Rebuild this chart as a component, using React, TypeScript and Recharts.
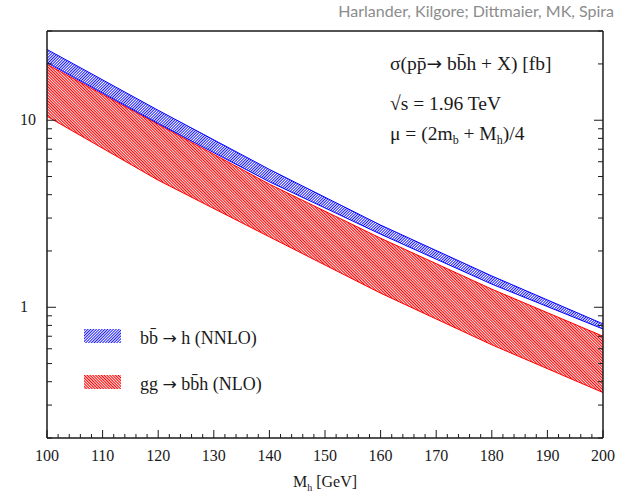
import { Area, ComposedChart, Legend, XAxis, YAxis } from 'recharts'

// Higgs mass points (GeV) and cross-section bands in fb
const massGeV = [100, 120, 140, 160, 180, 200]
const bbToHLow = [20.3, 9.6, 4.69, 2.46, 1.33, 0.765]
const bbToHHigh = [23.9, 11.3, 5.46, 2.75, 1.47, 0.815]
const ggToBbhLow = [10.5, 4.78, 2.38, 1.19, 0.63, 0.35]
const ggToBbhHigh = [19.9, 9.5, 4.55, 2.34, 1.25, 0.7]

const xMajorTicks = [100, 110, 120, 130, 140, 150, 160, 170, 180, 190, 200]
const xAllTicks = [
  100, 102, 104, 106, 108, 110, 112, 114, 116, 118, 120, 122, 124, 126, 128, 130, 132, 134, 136,
  138, 140, 142, 144, 146, 148, 150, 152, 154, 156, 158, 160, 162, 164, 166, 168, 170, 172, 174,
  176, 178, 180, 182, 184, 186, 188, 190, 192, 194, 196, 198, 200,
]
const yMajorTicks = [1, 10]
const yAllTicks = [0.2, 0.3, 0.4, 0.5, 0.6, 0.7, 0.8, 0.9, 1, 2, 3, 4, 5, 6, 7, 8, 9, 10, 20, 30]

const legendItems = [
  { pre: 'bb\u0304 ', post: ' h (NNLO)', fill: 'url(#legendBlue)' },
  { pre: 'gg ', post: ' bb\u0304h (NLO)', fill: 'url(#legendRed)' },
]

const W = 618
const H = 495
const INK = '#1a1a1a'
const SERIF = '"Liberation Serif", "Times New Roman", serif'
const ARROW_FONT = '"DejaVu Sans", sans-serif'
const BLUE = '#0000ff'
const RED = '#ff0000'

interface TickProps {
  x: number
  y: number
  payload: { value: number }
}

function BottomTick({ x, y, payload }: TickProps) {
  const major = xMajorTicks.includes(payload.value)
  return (
    <g>
      <line x1={x} y1={y} x2={x} y2={y - (major ? 8 : 4)} stroke={INK} strokeWidth={1} />
      {major && (
        <text x={x} y={y + 23} textAnchor="middle" fontFamily={SERIF} fontSize={16} fill={INK}>
          {payload.value}
        </text>
      )}
    </g>
  )
}

function TopTick({ x, y, payload }: TickProps) {
  const major = xMajorTicks.includes(payload.value)
  return <line x1={x} y1={y} x2={x} y2={y + (major ? 8 : 4)} stroke={INK} strokeWidth={1} />
}

function LeftTick({ x, y, payload }: TickProps) {
  const major = yMajorTicks.includes(payload.value)
  return (
    <g>
      <line x1={x} y1={y} x2={x + (major ? 9 : 5)} y2={y} stroke={INK} strokeWidth={1} />
      {major && (
        <text x={20} y={y + 5} textAnchor="start" fontFamily={SERIF} fontSize={16} fill={INK}>
          {payload.value}
        </text>
      )}
    </g>
  )
}

function RightTick({ x, y, payload }: TickProps) {
  const major = yMajorTicks.includes(payload.value)
  return <line x1={x} y1={y} x2={x - (major ? 9 : 5)} y2={y} stroke={INK} strokeWidth={1} />
}

function hatch(id: string, color: string, angle: number, line: number) {
  return (
    <pattern id={id} width={2} height={2} patternUnits="userSpaceOnUse" patternTransform={`rotate(${angle})`}>
      <rect width={line} height={2} fill={color} />
    </pattern>
  )
}

function Arrow() {
  return <tspan fontFamily={ARROW_FONT} fontSize="0.95em">→</tspan>
}

function BandLegend() {
  return (
    <svg width={260} height={80}>
      <defs>
        {hatch('legendBlue', BLUE, 45, 0.9)}
        {hatch('legendRed', RED, -45, 1.1)}
      </defs>
      {legendItems.map((item, i) => (
        <g key={item.pre + item.post} transform={`translate(0, ${i * 46})`}>
          <rect x={0} y={5} width={37} height={14} fill={item.fill} />
          <text x={56} y={20} fontFamily={SERIF} fontSize={18} fill={INK}>
            {item.pre}
            <Arrow />
            {item.post}
          </text>
        </g>
      ))}
    </svg>
  )
}

export default function App() {
  const rows = massGeV.map((m, i) => ({
    m,
    bbh: [bbToHLow[i], bbToHHigh[i]],
    gg: [ggToBbhLow[i], ggToBbhHigh[i]],
  }))
  const frame = { stroke: INK, strokeWidth: 1.5 }

  return (
    <div style={{ position: 'absolute', left: 0, top: 0, width: W, height: H, background: '#fff' }}>
      <ComposedChart width={W} height={H} data={rows} margin={{ top: 30, right: 14, bottom: 27, left: 17 }}>
        <defs>
          {hatch('hatchBlue', BLUE, 45, 0.9)}
          {hatch('hatchRed', RED, -45, 1.1)}
        </defs>
        <XAxis
          xAxisId="x"
          dataKey="m"
          type="number"
          domain={[100, 200]}
          allowDataOverflow
          ticks={xAllTicks}
          interval={0}
          height={30}
          tickSize={0}
          tickMargin={0}
          tickLine={false}
          axisLine={frame}
          tick={(p: TickProps) => <BottomTick {...p} />}
        />
        <XAxis
          xAxisId="top"
          orientation="top"
          type="number"
          domain={[100, 200]}
          allowDataOverflow
          ticks={xAllTicks}
          interval={0}
          height={1}
          tickSize={0}
          tickMargin={0}
          tickLine={false}
          axisLine={frame}
          tick={(p: TickProps) => <TopTick {...p} />}
        />
        <YAxis
          yAxisId="y"
          scale="log"
          type="number"
          domain={[0.2, 30]}
          allowDataOverflow
          ticks={yAllTicks}
          interval={0}
          width={30}
          tickSize={0}
          tickMargin={0}
          tickLine={false}
          axisLine={frame}
          tick={(p: TickProps) => <LeftTick {...p} />}
        />
        <YAxis
          yAxisId="right"
          orientation="right"
          scale="log"
          type="number"
          domain={[0.2, 30]}
          allowDataOverflow
          ticks={yAllTicks}
          interval={0}
          width={1}
          tickSize={0}
          tickMargin={0}
          tickLine={false}
          axisLine={frame}
          tick={(p: TickProps) => <RightTick {...p} />}
        />
        <Area
          xAxisId="x"
          yAxisId="y"
          dataKey="gg"
          name="gg → bb̄h (NLO)"
          type="linear"
          fill="url(#hatchRed)"
          fillOpacity={1}
          stroke={RED}
          strokeWidth={1}
          dot={false}
          activeDot={false}
          isAnimationActive={false}
        />
        <Area
          xAxisId="x"
          yAxisId="y"
          dataKey="bbh"
          name="bb̄ → h (NNLO)"
          type="linear"
          fill="url(#hatchBlue)"
          fillOpacity={1}
          stroke={BLUE}
          strokeWidth={1}
          dot={false}
          activeDot={false}
          isAnimationActive={false}
        />
        <Legend
          layout="vertical"
          align="center"
          verticalAlign="middle"
          wrapperStyle={{ left: 84, top: 324, width: 260, height: 80 }}
          content={() => <BandLegend />}
        />
      </ComposedChart>

      <svg width={W} height={H} style={{ position: 'absolute', left: 0, top: 0, pointerEvents: 'none' }}>
        <text x={614} y={17} textAnchor="end" fontFamily="Lato, sans-serif" fontSize={16} fill="#8c8c8c">
          Harlander, Kilgore; Dittmaier, MK, Spira
        </text>
        <g fontFamily={SERIF} fontSize={19.5} fill={INK}>
          <text x={390} y={70}>
            σ(pp&#x304;
            <Arrow />
            {' bb\u0304h + X) [fb]'}
          </text>
          <text x={390} y={110}>√s = 1.96 TeV</text>
          <text x={390} y={140}>
            μ = (2m<tspan dy={4} fontSize={12}>b</tspan>
            <tspan dy={-4}> + M</tspan>
            <tspan dy={4} fontSize={12}>h</tspan>
            <tspan dy={-4}>)/4</tspan>
          </text>
        </g>
        <text x={325} y={487} textAnchor="middle" fontFamily={SERIF} fontSize={16} fill={INK}>
          M<tspan dy={4} fontSize={10}>h</tspan>
          <tspan dy={-4}> [GeV]</tspan>
        </text>
      </svg>
    </div>
  )
}
